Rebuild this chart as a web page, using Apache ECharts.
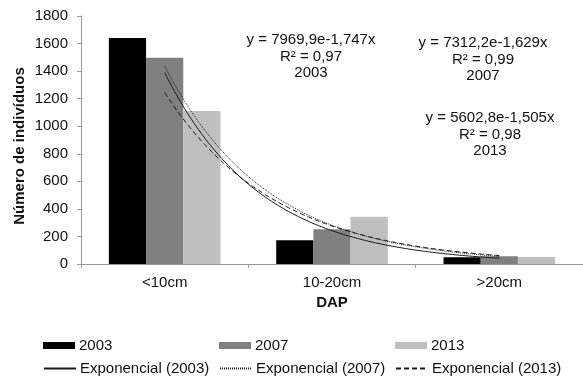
<!DOCTYPE html>
<html>
<head>
<meta charset="utf-8">
<script src="https://cdn.jsdelivr.net/npm/echarts@6/dist/echarts.min.js"></script>
<style>
  html, body { margin: 0; padding: 0; background: #fff; }
  #chart { width: 583px; height: 376px; }
</style>
</head>
<body>
<div id="chart"></div>
<script>
// Tree counts by diameter class (DAP) for three survey years
const categories = ['<10cm', '10-20cm', '>20cm'];
const years = ['2003', '2007', '2013'];
const counts2003 = [1640, 172, 49];
const counts2007 = [1497, 252, 57];
const counts2013 = [1110, 343, 51];
const yTicks = [0, 200, 400, 600, 800, 1000, 1200, 1400, 1600, 1800];

// Exponential fits y = a·e^(b·x), x = class index (1..3)
const trendA = [7969.9, 7312.2, 5602.8];
const trendB = [-1.747, -1.629, -1.505];
const trendR2 = [0.97, 0.99, 0.98];

const FONT = '"Liberation Sans", Arial, sans-serif';
const barColors = ['#000000', '#808080', '#bfbfbf'];
const trendStyles = ['solid', [1, 1], [5, 3]];

function comma(v, d) { return v.toFixed(d).replace('.', ','); }

function trendPoints(a, b) {
  const pts = [];
  for (let i = 0; i <= 100; i++) {
    const x = 1 + i * 0.02;
    pts.push([x, a * Math.exp(b * x)]);
  }
  return pts;
}

const chart = echarts.init(document.getElementById('chart'));

const barSeries = [counts2003, counts2007, counts2013].map((vals, i) => ({
  name: years[i],
  type: 'bar',
  xAxisIndex: 0,
  data: vals,
  barGap: '0%',
  barCategoryGap: '33.3%',
  itemStyle: { color: barColors[i] },
  emphasis: { disabled: true }
}));

const trendSeries = trendA.map((a, i) => ({
  name: 'Exponencial (' + years[i] + ')',
  type: 'line',
  xAxisIndex: 1,
  data: trendPoints(a, trendB[i]),
  showSymbol: false,
  symbol: 'none',
  smooth: false,
  z: 5,
  lineStyle: { color: '#1a1a1a', width: 1, type: trendStyles[i] },
  itemStyle: { color: '#1a1a1a' },
  emphasis: { disabled: true }
}));

const legendBase = {
  itemWidth: 32,
  itemHeight: 7,
  itemGap: 0,
  textStyle: { fontFamily: FONT, fontSize: 15, color: '#111', padding: [0, 0, 0, -1] },
  selectedMode: false
};
const legendLefts = [38, 214, 390];
const legends = [];
years.forEach((y, i) => {
  legends.push(Object.assign({}, legendBase, {
    data: [{ name: y, icon: 'rect' }], left: legendLefts[i], top: 333
  }));
});
years.forEach((y, i) => {
  legends.push(Object.assign({}, legendBase, {
    data: [{ name: 'Exponencial (' + y + ')', itemStyle: { opacity: 0 } }],
    left: legendLefts[i], top: 356
  }));
});

const eqPos = [[311, 32], [483, 35], [490, 110]];
const equations = trendA.map((a, i) => ({
  type: 'text',
  x: eqPos[i][0],
  y: eqPos[i][1],
  style: {
    text: 'y = ' + comma(a, 1) + 'e' + comma(trendB[i], 3) + 'x\nR² = ' + comma(trendR2[i], 2) + '\n' + years[i],
    fontFamily: FONT,
    fontSize: 15,
    lineHeight: 16.5,
    fill: '#111',
    align: 'center',
    verticalAlign: 'top'
  }
}));

chart.setOption({
  animation: false,
  grid: { left: 81, right: 0, top: 16, bottom: 112 },
  legend: legends,
  xAxis: [{
    type: 'category',
    data: categories,
    name: 'DAP',
    nameLocation: 'middle',
    nameGap: 25,
    nameTextStyle: { fontFamily: FONT, fontSize: 15, fontWeight: 'bold', color: '#111' },
    axisLine: { lineStyle: { color: '#9a9a9a', width: 1 } },
    axisTick: { show: true, length: 4, lineStyle: { color: '#9a9a9a' } },
    axisLabel: { fontFamily: FONT, fontSize: 15, color: '#111', margin: 11 }
  }, {
    type: 'value',
    min: 0.5,
    max: 3.5,
    show: false
  }],
  yAxis: {
    type: 'value',
    min: yTicks[0],
    max: yTicks[yTicks.length - 1],
    interval: yTicks[1] - yTicks[0],
    splitLine: { show: false },
    axisLine: { show: true, lineStyle: { color: '#9a9a9a', width: 1 } },
    axisTick: { show: true, length: 4, lineStyle: { color: '#9a9a9a' } },
    axisLabel: { fontFamily: FONT, fontSize: 15, color: '#111', margin: 13, formatter: v => String(v) }
  },
  graphic: equations.concat([{
    type: 'text',
    x: 20,
    y: 146,
    rotation: Math.PI / 2,
    style: {
      text: 'Número de indivíduos',
      fontFamily: FONT,
      fontSize: 15,
      fontWeight: 'bold',
      fill: '#111',
      align: 'center',
      verticalAlign: 'middle'
    }
  }]),
  series: barSeries.concat(trendSeries)
});
</script>
</body>
</html>
